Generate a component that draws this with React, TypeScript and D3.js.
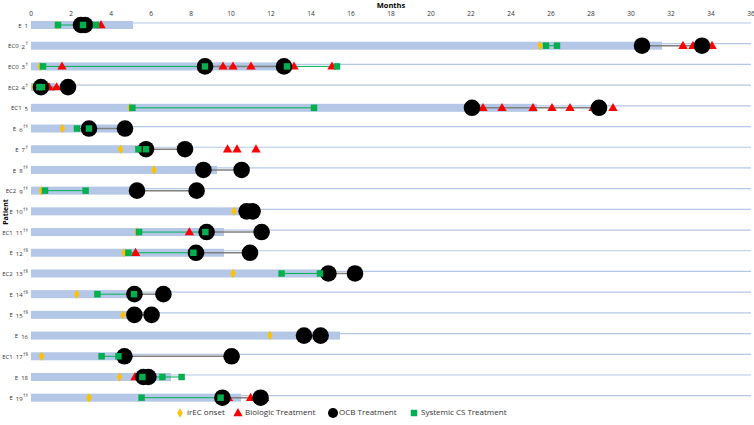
import React from 'react';
import * as d3 from 'd3';

const width = 754;
const height = 425;
const margin = { top: 25, left: 31, right: 3 };

// patient labels
const groups = ['E', 'EC0', 'EC0', 'EC2', 'EC1', 'E', 'E', 'E', 'EC2', 'E', 'EC1', 'E', 'EC2', 'E', 'E', 'E', 'EC1', 'E', 'E'];
const marks = ['', '†', '†', '†', '', '†‡', '†', '†‡', '†‡', '†‡', '†‡', '†§', '†§', '†§', '†§', '', '†§', '', '†‡'];

// months
const barEnd = [5.1, 31.55, 12.7, 1.2, 25.3, 4.7, 5.75, 9.3, 5.6, 10.4, 9.65, 9.65, 14.6, 5.2, 4.8, 15.45, 5.0, 7.0, 10.5];
const onset = [1.3, 25.45, 0.45, 0.15, 4.95, 1.57, 4.48, 6.15, 0.53, 10.15, 5.3, 4.65, 10.1, 2.28, 4.6, 11.95, 0.53, 4.42, 2.9];
const biologic = [
  [3.5], [32.6, 33.1, 34.05], [1.55, 9.6, 10.1, 11.0, 13.15, 15.05], [0.9, 1.28],
  [22.6, 23.55, 25.1, 26.05, 26.95, 28.1, 29.1], [], [9.83, 10.3, 11.25], [], [], [],
  [7.92], [5.23], [], [], [], [], [], [5.2], [9.87, 10.98, 11.68],
];
const ocb = [
  [2.5, 2.7], [30.55, 33.55], [8.7, 12.65], [0.5, 1.85], [22.05, 28.4], [2.9, 4.7],
  [5.75, 7.7], [8.62, 10.53], [5.3, 8.28], [10.78, 11.08], [8.78, 11.53], [8.25, 10.95],
  [14.87, 16.2], [5.17, 6.62], [5.17, 6.03], [13.65, 14.48], [4.67, 10.03], [5.62, 5.87], [9.57, 11.48],
];
const systemicCS = [
  [1.35, 2.6, 3.25], [25.75, 26.3], [0.6, 8.7, 12.8, 15.3], [0.42, 0.55], [5.07, 14.15], [2.3, 2.9],
  [5.37, 5.75], [], [0.7, 2.73], [], [5.4, 8.72], [4.87, 8.12], [12.53, 14.45], [3.32, 5.15], [], [],
  [3.53, 4.37], [5.57, 6.57, 7.53], [5.53, 9.48],
];
const xTicks = d3.range(0, 37, 2);

const legendItems = [
  { label: 'irEC onset', kind: 'onset' },
  { label: 'Biologic Treatment', kind: 'bio' },
  { label: 'OCB Treatment', kind: 'ocb' },
  { label: 'Systemic CS Treatment', kind: 'cs' },
];

const barColor = '#B4C7E7';
const gold = '#FFC000';
const red = '#FF0000';
const green = '#00B050';
const font = '"Open Sans", "Liberation Sans", sans-serif';

const diamond = d3.symbol().type(d3.symbolDiamond).size(26)()!;
const triangle = d3.symbol().type(d3.symbolTriangle).size(38)()!;
const square = d3.symbol().type(d3.symbolSquare).size(42)()!;

export default function App() {
  const x = d3.scaleLinear().domain([0, 36]).range([margin.left, width - margin.right]);
  const rows = d3.range(groups.length);
  const y = d3.scalePoint<number>().domain(rows).range([25, 397.7]);

  const lineGen = d3.line<number>().x(d => x(d)).y(0);

  const marker = (kind: string, key: string | number, tx: number, ty: number) => {
    if (kind === 'onset') return <path key={key} d={diamond} transform={`translate(${tx},${ty})`} fill={gold} />;
    if (kind === 'bio') return <path key={key} d={triangle} transform={`translate(${tx},${ty + 0.5})`} fill={red} />;
    if (kind === 'ocb') return <circle key={key} cx={tx} cy={ty} r={8.3} fill="#000" />;
    return <path key={key} d={square} transform={`translate(${tx},${ty})`} fill={green} />;
  };

  const legendX = [180, 238, 333, 414];

  return (
    <svg width={width} height={height} style={{ position: 'absolute', left: 0, top: 0, background: '#fff' }} fontFamily={font}>
      {/* top axis */}
      <text x={(x(0) + x(36)) / 2} y={7.5} textAnchor="middle" fontSize={7.5} fontWeight="bold">Months</text>
      {xTicks.map(t => (
        <text key={t} x={x(t)} y={16} textAnchor="middle" fontSize={6.5} fill="#333">{t}</text>
      ))}

      {/* gridlines */}
      {rows.map(i => (
        <line key={i} x1={x(0)} x2={x(36)} y1={y(i)! - 2} y2={y(i)! - 2} stroke={barColor} strokeWidth={1.2} />
      ))}

      {/* bars */}
      {rows.map(i => (
        <rect key={i} x={x(0)} y={y(i)! - 4} width={x(barEnd[i]) - x(0)} height={8} fill={barColor} />
      ))}

      {/* patient labels */}
      {rows.map(i => (
        <text key={i} x={28} y={y(i)! + 1} textAnchor="end" fontSize={6} fill="#333" dominantBaseline="middle">
          {groups[i]}
          <tspan dx={3}>{i + 1}</tspan>
          {marks[i] && <tspan fontSize={4.8} dx={0.5} dy={-2.5}>{marks[i]}</tspan>}
        </text>
      ))}
      <text transform="translate(7.5,212) rotate(-90)" textAnchor="middle" fontSize={7} fontWeight="bold">Patient</text>

      {/* lines */}
      {rows.map(i => (
        <g key={i} transform={`translate(0,${y(i)})`}>
          {systemicCS[i].length > 1 && <path d={lineGen(systemicCS[i])!} stroke={green} strokeWidth={1} fill="none" />}
          {ocb[i].length > 1 && <path d={lineGen(ocb[i])!} stroke="#7F7F7F" strokeWidth={1.5} fill="none" />}
        </g>
      ))}

      {/* markers */}
      {rows.map(i => (
        <g key={i}>
          {marker('onset', 'o', x(onset[i]), y(i)!)}
          {biologic[i].map((v, j) => marker('bio', 'b' + j, x(v), y(i)!))}
          {ocb[i].map((v, j) => marker('ocb', 'c' + j, x(v), y(i)!))}
          {systemicCS[i].map((v, j) => marker('cs', 's' + j, x(v), y(i)!))}
        </g>
      ))}

      {/* legend */}
      {legendItems.map((d, i) => (
        <g key={d.label}>
          {d.kind === 'ocb'
            ? <circle cx={legendX[i]} cy={413} r={5} fill="#000" />
            : marker(d.kind, 'l', legendX[i], 413)}
          <text x={legendX[i] + (d.kind === 'ocb' ? 6 : 7)} y={413} dominantBaseline="middle" fontSize={8} fill="#333">{d.label}</text>
        </g>
      ))}
    </svg>
  );
}
